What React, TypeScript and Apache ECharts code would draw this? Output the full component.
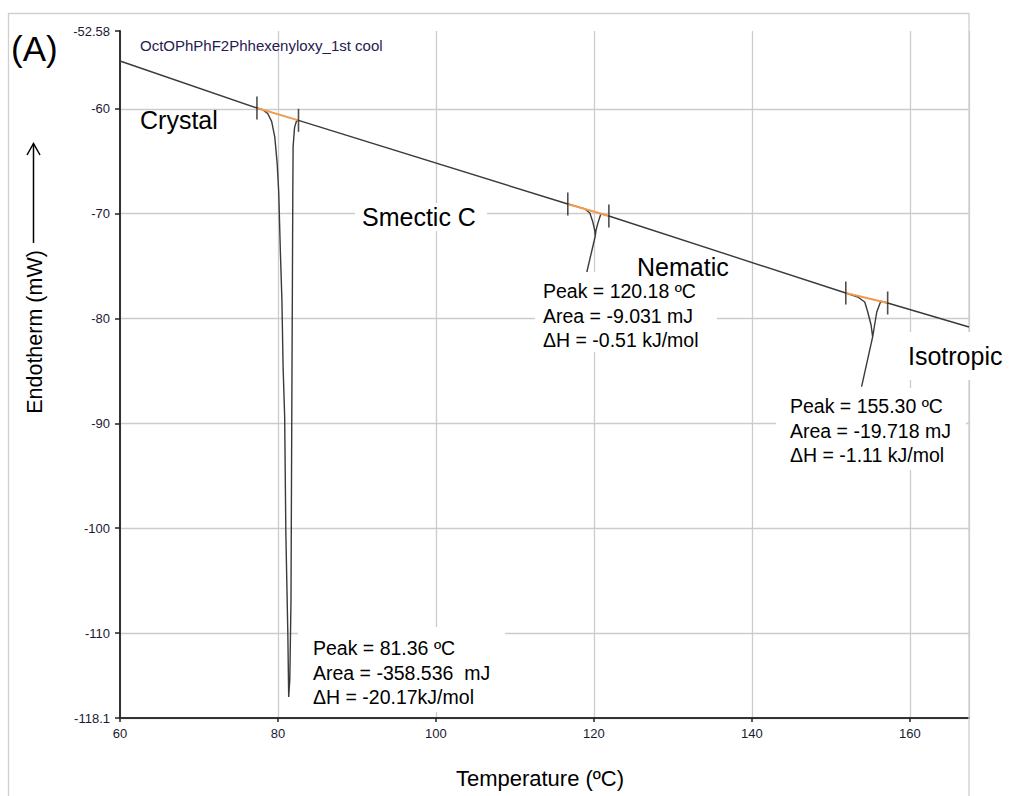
import React, { useEffect, useRef } from "react";
import * as echarts from "echarts";

// ---- data ----
const xMin = 60;
const xMax = 167.5;
const yMin = -118.1;
const yMax = -52.58;
const xTickValues = [60, 80, 100, 120, 140, 160];

// DSC trace (Temperature °C, heat flow mW)
const dscCurve: [number, number][] = [
  [60, -55.44],
  [77.34, -59.92],
  [78.1, -60.1],
  [78.7, -60.45],
  [79.2, -61.2],
  [79.6, -62.7],
  [79.9, -65.2],
  [80.1, -68.0],
  [80.3, -73.5],
  [80.5, -78.2],
  [80.65, -84.6],
  [80.85, -89.4],
  [81.0, -100.5],
  [81.25, -110.0],
  [81.36, -116.1],
  [81.5, -114.5],
  [81.65, -106.9],
  [81.75, -89.4],
  [81.82, -78.2],
  [81.88, -68.0],
  [81.92, -63.6],
  [82.1, -61.8],
  [82.35, -61.15],
  [82.6, -61.1],
  [116.7, -69.08],
  [118.86, -69.55],
  [119.49, -69.94],
  [119.87, -70.8],
  [120.1, -71.56],
  [120.18, -72.13],
  [120.28, -71.56],
  [120.51, -70.9],
  [120.76, -70.32],
  [120.9, -70.0],
  [121.9, -70.22],
  [151.9, -77.57],
  [153.42, -77.95],
  [154.3, -78.43],
  [154.68, -79.38],
  [155.1, -80.62],
  [155.3, -81.76],
  [155.55, -80.62],
  [155.82, -79.38],
  [156.33, -78.35],
  [157.2, -78.52],
  [167.5, -80.81],
];

// integration limits of each peak
const integrationStart: [number, number][] = [
  [77.34, -59.92],
  [116.7, -69.08],
  [151.9, -77.57],
];
const integrationEnd: [number, number][] = [
  [82.6, -61.1],
  [121.9, -70.22],
  [157.2, -78.52],
];

// leader lines from peak to its annotation
const leaderLines: [number, number][][] = [
  [
    [120.18, -72.13],
    [119.1, -75.6],
  ],
  [
    [155.3, -81.76],
    [153.9, -86.5],
  ],
];

const peakLabels: string[][] = [
  ["Peak = 81.36 ºC", "Area = -358.536  mJ", "ΔH = -20.17kJ/mol"],
  ["Peak = 120.18 ºC", "Area = -9.031 mJ", "ΔH = -0.51 kJ/mol"],
  ["Peak = 155.30 ºC", "Area = -19.718 mJ", "ΔH = -1.11 kJ/mol"],
];
const phaseLabels = ["Crystal", "Smectic C", "Nematic", "Isotropic"];
const chartTitle = "OctOPhPhF2Phhexenyloxy_1st cool";
const panelLabel = "(A)";
const xAxisTitle = "Temperature (ºC)";
const yAxisTitle = "Endotherm (mW)";

// ---- layout (pixels) ----
const FONT = "'Liberation Sans', Arial, sans-serif";
const peakBoxes = [
  { x: 298, y: 627, w: 207, h: 85, tx: 313, ty: 636 },
  { x: 535, y: 272, w: 182, h: 80, tx: 543, ty: 279 },
  { x: 776, y: 388, w: 190, h: 82, tx: 790, ty: 394 },
];
const phasePos = [
  { x: 140, y: 120, box: null as null | number[] },
  { x: 362, y: 217, box: [355, 203, 132, 28] },
  { x: 637, y: 267, box: null as null | number[] },
  { x: 908, y: 356, box: [900, 332, 113, 48] },
];

export default function App() {
  const ref = useRef<HTMLDivElement>(null);

  useEffect(() => {
    if (!ref.current) return;
    const chart = echarts.init(ref.current, undefined, { renderer: "svg" });

    const graphics: any[] = [];
    // outer frame
    graphics.push({
      type: "rect",
      z: 1,
      shape: { x: 8.5, y: 13.5, width: 960.5, height: 800 },
      style: { fill: "none", stroke: "#cfcfcf", lineWidth: 1.3 },
    });
    graphics.push({
      type: "text",
      z: 20,
      style: {
        text: panelLabel,
        x: 11,
        y: 48,
        fill: "#000",
        font: `35px ${FONT}`,
        textVerticalAlign: "middle",
      },
    });
    graphics.push({
      type: "text",
      z: 20,
      style: {
        text: chartTitle,
        x: 140,
        y: 45,
        fill: "#1f2050",
        font: `15px ${FONT}`,
        textVerticalAlign: "middle",
      },
    });
    // peak annotation boxes
    peakBoxes.forEach((b, i) => {
      graphics.push({
        type: "rect",
        z: 15,
        shape: { x: b.x, y: b.y, width: b.w, height: b.h },
        style: { fill: "#fff" },
      });
      graphics.push({
        type: "text",
        z: 20,
        style: {
          text: peakLabels[i].join("\n"),
          x: b.tx,
          y: b.ty,
          fill: "#000",
          font: `19.5px ${FONT}`,
          lineHeight: 24.5,
          textVerticalAlign: "top",
        },
      });
    });
    phasePos.forEach((p, i) => {
      if (p.box) {
        graphics.push({
          type: "rect",
          z: 15,
          shape: { x: p.box[0], y: p.box[1], width: p.box[2], height: p.box[3] },
          style: { fill: "#fff" },
        });
      }
      graphics.push({
        type: "text",
        z: 20,
        style: {
          text: phaseLabels[i],
          x: p.x,
          y: p.y,
          fill: "#000",
          font: `25px ${FONT}`,
          textVerticalAlign: "middle",
        },
      });
    });
    // axis titles
    graphics.push({
      type: "text",
      z: 20,
      style: {
        text: xAxisTitle,
        x: 540,
        y: 778,
        fill: "#000",
        font: `22px ${FONT}`,
        textAlign: "center",
        textVerticalAlign: "middle",
      },
    });
    graphics.push({
      type: "text",
      z: 20,
      x: 35,
      y: 332,
      rotation: Math.PI / 2,
      style: {
        text: yAxisTitle,
        x: 0,
        y: 0,
        fill: "#000",
        font: `21.5px ${FONT}`,
        textAlign: "center",
        textVerticalAlign: "middle",
      },
    });
    graphics.push({
      type: "line",
      z: 20,
      shape: { x1: 33.5, y1: 243, x2: 33.5, y2: 143.5 },
      style: { stroke: "#000", lineWidth: 1.5 },
    });
    graphics.push({
      type: "polyline",
      z: 20,
      shape: {
        points: [
          [27, 155],
          [33.5, 143.5],
          [40, 155],
        ],
      },
      style: { stroke: "#000", lineWidth: 1.5, fill: "none" },
    });

    const series: any[] = [
      {
        type: "line",
        data: dscCurve,
        showSymbol: false,
        lineStyle: { color: "#3a3a3a", width: 1.4 },
        z: 2,
      },
    ];
    integrationStart.forEach((s, i) => {
      series.push({
        type: "line",
        data: [s, integrationEnd[i]],
        showSymbol: false,
        lineStyle: { color: "#f49a4c", width: 2 },
        z: 3,
      });
    });
    leaderLines.forEach((l) => {
      series.push({
        type: "line",
        data: l,
        showSymbol: false,
        lineStyle: { color: "#3a3a3a", width: 1.4 },
        z: 3,
      });
    });
    series.push({
      type: "scatter",
      data: [...integrationStart, ...integrationEnd],
      symbol: "rect",
      symbolSize: [1.6, 23],
      itemStyle: { color: "#222" },
      z: 4,
    });

    const tickLabelStyle = {
      color: "#1a1a33",
      fontSize: 13,
      fontFamily: FONT,
    };

    chart.setOption({
      animation: false,
      backgroundColor: "#fff",
      grid: { left: 120, top: 31, width: 849, height: 687, containLabel: false },
      xAxis: {
        type: "value",
        min: xMin,
        max: xMax,
        interval: 20,
        axisLine: { show: true, onZero: false, lineStyle: { color: "#333", width: 2 } },
        axisTick: { show: true, length: 4, lineStyle: { color: "#222", width: 1.5 } },
        axisLabel: {
          ...tickLabelStyle,
          showMaxLabel: false,
          margin: 9,
          formatter: (v: number) => (xTickValues.includes(v) ? String(v) : ""),
        },
        splitLine: { show: true, lineStyle: { color: "#cccccc", width: 1.3 } },
      },
      yAxis: {
        type: "value",
        min: yMin,
        max: yMax,
        splitNumber: 6,
        axisLine: { show: true, onZero: false, lineStyle: { color: "#333", width: 2 } },
        axisTick: { show: true, length: 5, lineStyle: { color: "#222", width: 1.5 } },
        axisLabel: {
          ...tickLabelStyle,
          showMinLabel: true,
          showMaxLabel: true,
          margin: 10,
          formatter: (v: number) => String(v),
        },
        splitLine: {
          show: true,
          showMaxLine: false,
          lineStyle: { color: "#cccccc", width: 1.3 },
        },
      },
      graphic: graphics,
      series,
    });

    return () => chart.dispose();
  }, []);

  return (
    <div
      ref={ref}
      style={{ position: "fixed", left: 0, top: 0, width: 1013, height: 796, background: "#fff" }}
    />
  );
}
